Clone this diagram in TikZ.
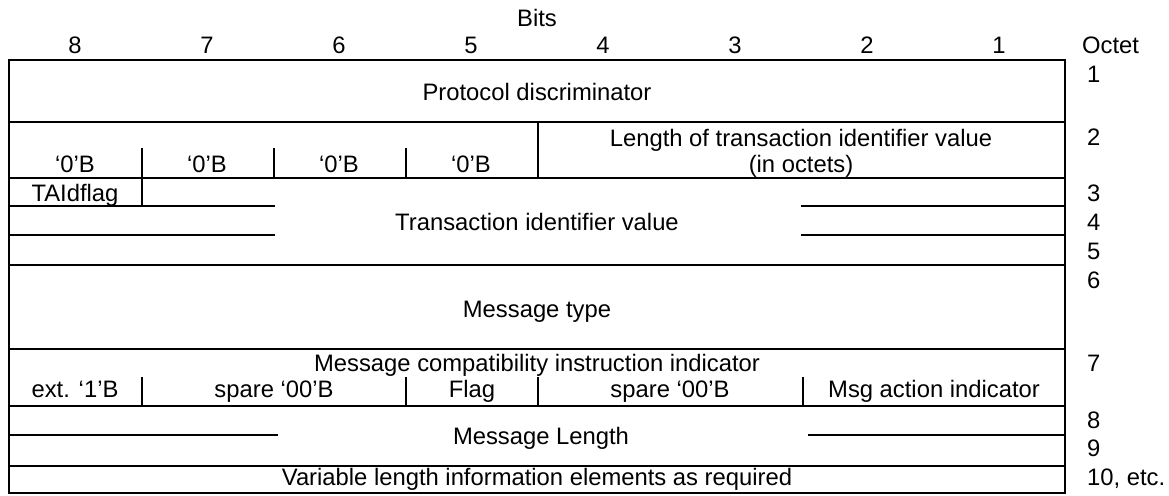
\documentclass[tikz,border=0pt]{standalone}
\usepackage{fontspec}
\setmainfont{Liberation Sans}
\begin{document}
\begin{tikzpicture}[x=1pt,y=-1pt,
  lbl/.style={inner sep=0pt, anchor=base, font=\fontsize{23.8}{26}\selectfont},
  lbll/.style={lbl, anchor=base west},
  rule/.style={line width=2pt, line cap=rect}]
\useasboundingbox (0,0) rectangle (1169,495);
% frame
\draw[rule, line cap=butt] (9,60) rectangle (1065,493);
% full horizontal rules
\foreach \yy in {122,178,265,349,406,466}
  \draw[rule] (9,\yy) -- (1065,\yy);
% row 2
\draw[rule] (538,122) -- (538,178);
\foreach \xx in {142,274,406}
  \draw[rule] (\xx,149) -- (\xx,178);
% rows 3-5
\draw[rule] (142,178) -- (142,206);
\draw[rule] (9,206) -- (274,206);
\draw[rule] (9,235) -- (274,235);
\draw[rule] (802,206) -- (1065,206);
\draw[rule] (802,235) -- (1065,235);
% row 7
\foreach \xx in {142,406,538,803}
  \draw[rule] (\xx,378) -- (\xx,406);
% rows 8-9
\draw[rule] (9,435) -- (277,435);
\draw[rule] (809,435) -- (1065,435);

% header
\node[lbl] (bits) at (537,27) {Bits};
\node[lbl] (b8) at (75,54) {8};
\node[lbl] (b7) at (207,54) {7};
\node[lbl] (b6) at (339,54) {6};
\node[lbl] (b5) at (471,54) {5};
\node[lbl] (b4) at (603,54) {4};
\node[lbl] (b3) at (735,54) {3};
\node[lbl] (b2) at (867,54) {2};
\node[lbl] (b1) at (999,54) {1};
\node[lbll] (oct) at (1082,53) {Octet};

% octet numbers
\node[lbll] (o1) at (1087,82) {1};
\node[lbll] (o2) at (1087,145) {2};
\node[lbll] (o3) at (1087,201) {3};
\node[lbll] (o4) at (1087,230) {4};
\node[lbll] (o5) at (1087,259) {5};
\node[lbll] (o6) at (1087,288) {6};
\node[lbll] (o7) at (1087,371) {7};
\node[lbll] (o8) at (1087,428) {8};
\node[lbll] (o9) at (1087,456) {9};
\node[lbll] (o10) at (1087,485) {10, etc.};

% cells
\node[lbl] (pd) at (537,100) {Protocol discriminator};
\node[lbl] (z8) at (75,172) {‘0’B};
\node[lbl] (z7) at (207,172) {‘0’B};
\node[lbl] (z6) at (339,172) {‘0’B};
\node[lbl] (z5) at (471,172) {‘0’B};
\node[lbl] (len1) at (801,146) {Length of transaction identifier value};
\node[lbl] (len2) at (801,172) {(in octets)};
\node[lbl] (taid) at (75,201) {TAIdflag};
\node[lbl] (tiv) at (537,230) {Transaction identifier value};
\node[lbl] (mt) at (537,317) {Message type};
\node[lbl] (mci) at (537,371) {Message compatibility instruction indicator};
\node[lbl] (ext) at (75,397) {ext. ‘1’B};
\node[lbl] (sp1) at (274,397) {spare ‘00’B};
\node[lbl] (flag) at (472,397) {Flag};
\node[lbl] (sp2) at (670,397) {spare ‘00’B};
\node[lbl] (mai) at (934,397) {Msg action indicator};
\node[lbl] (ml) at (541,444) {Message Length};
\node[lbl] (var) at (537,485) {Variable length information elements as required};
\end{tikzpicture}
\end{document}
